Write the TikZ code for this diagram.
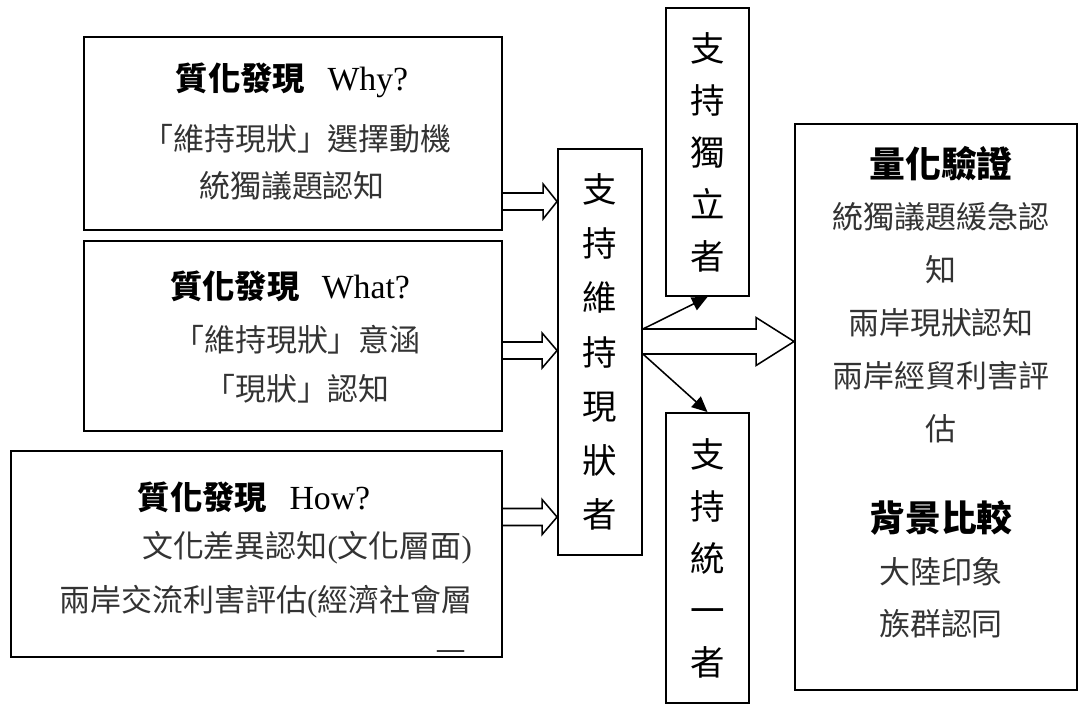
\documentclass[tikz,border=0pt]{standalone}
\usepackage{fontspec}
\setmainfont{Liberation Serif}
\newfontfamily\cjk{Noto Sans CJK TC}
\usetikzlibrary{arrows.meta,calc}

\tikzset{
  box/.style={draw, line width=1.3pt, inner sep=0pt},
  title/.style={font=\fontsize{24}{28}\selectfont},
  bigtitle/.style={font=\fontsize{25.5}{30}\selectfont\cjk\bfseries},
  sub/.style={font=\fontsize{22}{26}\selectfont\cjk, text=black!80},
  vert/.style={align=center, font=\fontsize{24.5}{38.5}\selectfont\cjk},
  blockarrow/.style={draw, line width=1.1pt, line join=miter},
  link/.style={line width=1.1pt, -{Triangle[length=11pt,width=10pt]}}
}

% heading of a left box: CJK part, latin part
\newcommand\qtitle[1]{{\fontsize{23}{28}\selectfont\cjk\bfseries 質化發現}\hspace{0.35cm} #1}

% fat outlined arrow: from, to, y, shaft half, head half, head length
\newcommand\fatarrow[6]{%
  \draw[blockarrow] ($(#1.east |- 0,#3)+(0,-#4)$)
    -- ($(#2.west |- 0,#3)+(-#6,-#4)$) -- ($(#2.west |- 0,#3)+(-#6,-#5)$)
    -- (#2.west |- 0,#3)
    -- ($(#2.west |- 0,#3)+(-#6,#5)$) -- ($(#2.west |- 0,#3)+(-#6,#4)$)
    -- ($(#1.east |- 0,#3)+(0,#4)$);}

\begin{document}
\begin{tikzpicture}[x=0.025cm, y=-0.025cm]
\useasboundingbox (0,0) rectangle (1083,704);

% Left boxes
\node (why) [box, minimum width=10.45cm, minimum height=4.825cm] at (293,133.5) {};
\node (whyt) [title] at (292,80) {\qtitle{Why?}};
\node (why1) [sub] at (297,139) {「維持現狀」選擇動機};
\node (why2) [sub] at (292,186) {統獨議題認知};

\node (what) [box, minimum width=10.45cm, minimum height=4.75cm] at (293,336) {};
\node (whatt) [title] at (290,286) {\qtitle{What?}};
\node (what1) [sub] at (297,340) {「維持現狀」意涵};
\node (what2) [sub] at (297,389) {「現狀」認知};

\node (how) [box, minimum width=12.275cm, minimum height=5.15cm] at (256.5,554) {};
\node (howt) [title] at (254,497) {\qtitle{How?}};
\node (how1) [sub, anchor=east] at (477,548) {文化差異認知{\rmfamily(}文化層面{\rmfamily)}};
\node (how2) [sub, anchor=east] at (477,602) {兩岸交流利害評估{\rmfamily(}經濟社會層};
\begin{scope}
  \clip (how.north west) rectangle (how.east |- 0,651);
  \node (how3) [sub, anchor=east] at (482,666) {面{\rmfamily)}};
\end{scope}

% Middle and small boxes
\node (mid) [box, vert, minimum width=2.1cm, minimum height=10.15cm] at (600,352) {支\\持\\維\\持\\現\\狀\\者};
\node (indep) [box, vert, font=\fontsize{24.5}{37}\selectfont\cjk, minimum width=2.075cm, minimum height=7.2cm] at (707.5,152) {支\\持\\獨\\立\\者};
\node (unif) [box, vert, font=\fontsize{24.5}{37}\selectfont\cjk, minimum width=2.075cm, minimum height=7.25cm] at (707.5,558) {支\\持\\統\\一\\者};

% Right box
\node (quant) [box, minimum width=7.05cm, minimum height=14.15cm] at (936,407) {};
\node (quantt) [bigtitle] at (941,164) {量化驗證};
\node (quant1) [sub] at (941,217) {統獨議題緩急認};
\node (quant2) [sub] at (941,270) {知};
\node (quant3) [sub] at (941,323) {兩岸現狀認知};
\node (quant4) [sub] at (941,376) {兩岸經貿利害評};
\node (quant5) [sub] at (941,429) {估};
\node (backt) [bigtitle] at (941,518) {背景比較};
\node (back1) [sub] at (941,572) {大陸印象};
\node (back2) [sub] at (941,624) {族群認同};

% Arrows
\fatarrow{why}{mid}{201.5}{8.5}{17.5}{14}
\fatarrow{what}{mid}{350.5}{8.5}{17.5}{15}
\fatarrow{how}{mid}{517}{8.5}{17.5}{15}
\fatarrow{mid}{quant}{341.5}{12.5}{24}{38}

\draw[link] (mid.east |- 0,329) -- (indep.south);
\draw[link] (mid.east |- 0,354) -- (unif.north);

\end{tikzpicture}
\end{document}
